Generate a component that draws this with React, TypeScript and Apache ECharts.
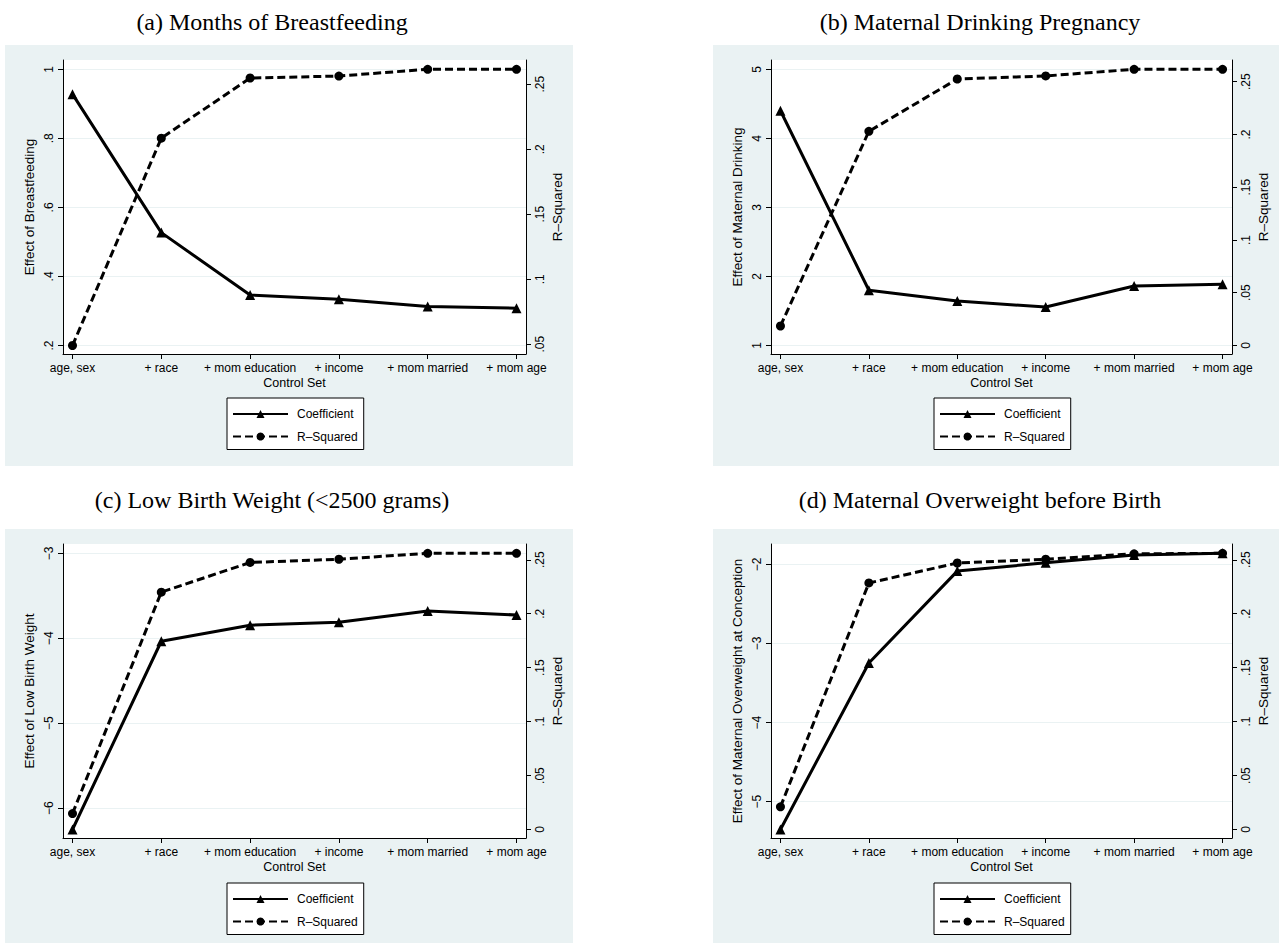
import React, { useEffect, useRef } from "react";
import * as echarts from "echarts";

// ---------- data ----------
const CATEGORIES = ["age, sex", "+ race", "+ mom education", "+ income", "+ mom married", "+ mom age"];
const X_TITLE = "Control Set";
const R2_TITLE = "R\u2013Squared";
const LEGEND_COEF = "Coefficient";
const LEGEND_R2 = "R\u2013Squared";

const TITLE_A = "(a) Months of Breastfeeding";
const YTITLE_A = "Effect of Breastfeeding";
const COEF_A = [0.928, 0.527, 0.346, 0.334, 0.313, 0.308];
const R2_A = [0.049, 0.2085, 0.2548, 0.2563, 0.2615, 0.2615];
const COEF_TICKS_A = [0.2, 0.4, 0.6, 0.8, 1];
const R2_TICKS_A = [0.05, 0.1, 0.15, 0.2, 0.25];

const TITLE_B = "(b) Maternal Drinking Pregnancy";
const YTITLE_B = "Effect of Maternal Drinking";
const COEF_B = [4.4, 1.8, 1.645, 1.557, 1.862, 1.886];
const R2_B = [0.0185, 0.203, 0.2526, 0.2555, 0.2618, 0.2618];
const COEF_TICKS_B = [1, 2, 3, 4, 5];
const R2_TICKS_B = [0, 0.05, 0.1, 0.15, 0.2, 0.25];

const TITLE_C = "(c) Low Birth Weight (<2500 grams)";
const YTITLE_C = "Effect of Low Birth Weight";
const COEF_C = [-6.25, -4.035, -3.846, -3.81, -3.68, -3.726];
const R2_C = [0.0148, 0.22, 0.2475, 0.2505, 0.256, 0.256];
const COEF_TICKS_C = [-6, -5, -4, -3];
const R2_TICKS_C = [0, 0.05, 0.1, 0.15, 0.2, 0.25];

const TITLE_D = "(d) Maternal Overweight before Birth";
const YTITLE_D = "Effect of Maternal Overweight at Conception";
const COEF_D = [-5.352, -3.247, -2.085, -1.98, -1.88, -1.86];
const R2_D = [0.021, 0.2285, 0.247, 0.2505, 0.2555, 0.256];
const COEF_TICKS_D = [-5, -4, -3, -2];
const R2_TICKS_D = [0, 0.05, 0.1, 0.15, 0.2, 0.25];

// ---------- layout / style ----------
const SANS = '"Liberation Sans", Arial, Helvetica, sans-serif';
const SERIF = '"Liberation Serif", "Times New Roman", serif';
const BG = "#EAF2F3";
const GRID_H = 294;
const PAD_BOTTOM = 8.5 / 276.2;
const PAD_TOP = 9.3 / 276.2;
const X_MIN = -0.107;
const X_MAX = 5.107;

const PANELS = [
  { title: TITLE_A, yTitle: YTITLE_A, coef: COEF_A, r2: R2_A, coefTicks: COEF_TICKS_A, r2Ticks: R2_TICKS_A },
  { title: TITLE_B, yTitle: YTITLE_B, coef: COEF_B, r2: R2_B, coefTicks: COEF_TICKS_B, r2Ticks: R2_TICKS_B },
  { title: TITLE_C, yTitle: YTITLE_C, coef: COEF_C, r2: R2_C, coefTicks: COEF_TICKS_C, r2Ticks: R2_TICKS_C },
  { title: TITLE_D, yTitle: YTITLE_D, coef: COEF_D, r2: R2_D, coefTicks: COEF_TICKS_D, r2Ticks: R2_TICKS_D },
];

const LAYOUT = [
  { bgX: 5, bgY: 45, bgW: 568, bgH: 421, gridL: 63, gridT: 60, gridW: 463, titleX: 272, titleY: 22, legendL: 227, legendT: 398 },
  { bgX: 713, bgY: 45, bgW: 566, bgH: 421, gridL: 771, gridT: 60, gridW: 461, titleX: 980, titleY: 22, legendL: 934, legendT: 398 },
  { bgX: 5, bgY: 529, bgW: 568, bgH: 421, gridL: 63, gridT: 544, gridW: 463, titleX: 272, titleY: 500, legendL: 227, legendT: 883 },
  { bgX: 713, bgY: 529, bgW: 566, bgH: 421, gridL: 771, gridT: 544, gridW: 461, titleX: 980, titleY: 500, legendL: 934, legendT: 883 },
];

function fmtTick(v: number): string {
  let s = String(+v.toFixed(4));
  if (s.startsWith("0.")) s = s.slice(1);
  else if (s.startsWith("-0.")) s = "-" + s.slice(2);
  return s.replace("-", "\u2212");
}

function axisRange(ticks: number[], data: number[]) {
  const lo = Math.min(...ticks, ...data);
  const hi = Math.max(...ticks, ...data);
  const span = hi - lo;
  return { min: lo - span * PAD_BOTTOM, max: hi + span * PAD_TOP };
}

function buildOption() {
  const graphic: any[] = [];
  const grid: any[] = [];
  const xAxis: any[] = [];
  const yAxis: any[] = [];
  const legend: any[] = [];
  const series: any[] = [];

  PANELS.forEach((p, i) => {
    const L = LAYOUT[i];
    graphic.push({
      type: "rect",
      silent: true,
      z: -10,
      shape: { x: L.bgX, y: L.bgY, width: L.bgW, height: L.bgH },
      style: { fill: BG },
    });
    graphic.push({
      type: "text",
      silent: true,
      x: L.titleX,
      y: L.titleY,
      style: {
        text: p.title,
        fontFamily: SERIF,
        fontSize: 24,
        fill: "#000",
        align: "center",
        verticalAlign: "middle",
      },
    });

    grid.push({
      left: L.gridL,
      top: L.gridT,
      width: L.gridW,
      height: GRID_H,
      show: true,
      backgroundColor: "#fff",
      borderWidth: 0,
    });

    const xVals = CATEGORIES.map((_, k) => k);
    xAxis.push({
      type: "value",
      gridIndex: i,
      min: X_MIN,
      max: X_MAX,
      axisLine: { show: true, onZero: false, lineStyle: { color: "#000", width: 1 } },
      axisTick: { show: true, length: 5, customValues: xVals, lineStyle: { color: "#000" } },
      axisLabel: {
        customValues: xVals,
        formatter: (v: number) => CATEGORIES[Math.round(v)] ?? "",
        fontSize: 12,
        color: "#000",
        margin: 8,
        fontFamily: SANS,
      },
      splitLine: { show: false },
      name: X_TITLE,
      nameLocation: "middle",
      nameGap: 22,
      nameTextStyle: { fontSize: 12.5, color: "#000", fontFamily: SANS },
    });

    const lr = axisRange(p.coefTicks, p.coef);
    yAxis.push({
      type: "value",
      gridIndex: i,
      position: "left",
      min: lr.min,
      max: lr.max,
      axisLine: { show: true, onZero: false, lineStyle: { color: "#000", width: 1 } },
      axisTick: { show: true, length: 5, customValues: p.coefTicks, lineStyle: { color: "#000" } },
      axisLabel: {
        customValues: p.coefTicks,
        formatter: (v: number) => fmtTick(v),
        rotate: 90,
        fontSize: 12,
        color: "#000",
        margin: 8,
        fontFamily: SANS,
      },
      splitLine: { show: true, lineStyle: { color: BG, width: 1 } },
      name: p.yTitle,
      nameLocation: "middle",
      nameRotate: 90,
      nameGap: 27,
      nameTextStyle: { fontSize: 13.5, color: "#000", fontFamily: SANS },
    });

    const rr = axisRange(p.r2Ticks, p.r2);
    yAxis.push({
      type: "value",
      gridIndex: i,
      position: "right",
      min: rr.min,
      max: rr.max,
      axisLine: { show: true, onZero: false, lineStyle: { color: "#000", width: 1 } },
      axisTick: { show: true, length: 5, customValues: p.r2Ticks, lineStyle: { color: "#000" } },
      axisLabel: {
        customValues: p.r2Ticks,
        formatter: (v: number) => fmtTick(v),
        rotate: 90,
        fontSize: 12,
        color: "#000",
        margin: 8,
        fontFamily: SANS,
      },
      splitLine: { show: false },
      name: R2_TITLE,
      nameLocation: "middle",
      nameRotate: 90,
      nameGap: 24,
      nameTextStyle: { fontSize: 13.5, color: "#000", fontFamily: SANS },
    });

    series.push({
      type: "line",
      name: LEGEND_COEF,
      xAxisIndex: i,
      yAxisIndex: 2 * i,
      data: p.coef.map((v, k) => [k, v]),
      symbol: "triangle",
      symbolSize: 10,
      lineStyle: { color: "#000", width: 3, type: "solid" },
      itemStyle: { color: "#000" },
      z: 3,
    });
    series.push({
      type: "line",
      name: LEGEND_R2,
      xAxisIndex: i,
      yAxisIndex: 2 * i + 1,
      data: p.r2.map((v, k) => [k, v]),
      symbol: "circle",
      symbolSize: 9,
      lineStyle: { color: "#000", width: 3, type: [8, 4] },
      itemStyle: { color: "#000" },
      z: 4,
    });

    legend.push({
      data: [LEGEND_COEF, LEGEND_R2],
      orient: "vertical",
      left: L.legendL,
      top: L.legendT,
      itemWidth: 55,
      itemHeight: 10,
      itemGap: 10.5,
      padding: [10, 6, 7, 5],
      borderColor: "#000",
      borderWidth: 1,
      borderRadius: 0,
      backgroundColor: "#fff",
      selectedMode: false,
      textStyle: { fontSize: 12, color: "#000", fontFamily: SANS, padding: [0, 0, 0, 4] },
    });
  });

  return {
    animation: false,
    backgroundColor: "#fff",
    textStyle: { fontFamily: SANS, color: "#000" },
    graphic,
    grid,
    xAxis,
    yAxis,
    legend,
    series,
  };
}

export default function App() {
  const ref = useRef<HTMLDivElement>(null);
  useEffect(() => {
    document.body.style.margin = "0";
    if (!ref.current) return;
    const chart = echarts.init(ref.current, undefined, { renderer: "svg" });
    chart.setOption(buildOption() as any);
    return () => chart.dispose();
  }, []);
  return <div ref={ref} style={{ width: 1281, height: 943 }} />;
}
